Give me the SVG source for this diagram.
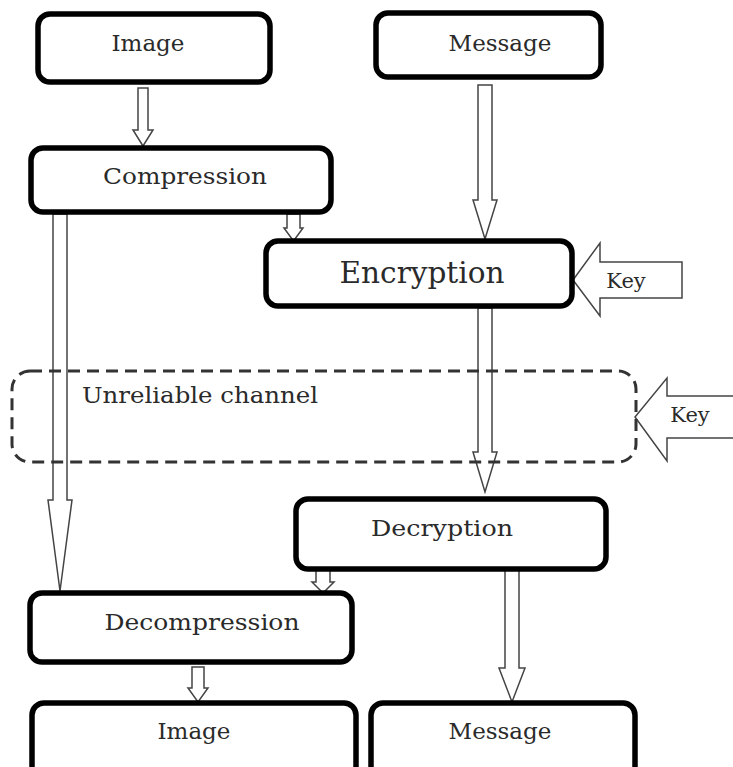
<svg xmlns="http://www.w3.org/2000/svg" width="733" height="767" viewBox="0 0 733 767">
<style>
.box{fill:#fff;stroke:#000;stroke-width:5.5}
.lbl{font-family:"DejaVu Serif","Liberation Serif",serif;font-size:23px;fill:#2a2a2a;text-anchor:middle}
.arr{fill:#fff;stroke:#444;stroke-width:1.5;stroke-linejoin:miter}
.chan{fill:none;stroke:#333;stroke-width:3;stroke-dasharray:12 7}
</style>
<rect width="733" height="767" fill="#fff"/>
<g id="connectors">
<path class="arr" d="M138,88 H148 V130 H153 L143,146 L133,130 H138 Z"/>
<path class="arr" d="M478,85 H492 V200 H497 L485,239 L473,200 H478 Z"/>
<path class="arr" d="M287,214 H300 V228 H303 L293.5,241 L284,228 H287 Z"/>
<path class="arr" d="M682,262 H600 V243 L573,280 L600,316 V298 H682 Z"/>
<path class="arr" d="M478,308 H492 V452 H497 L485,492 L473,452 H478 Z"/>
<path class="arr" d="M53,214 H67 V500 H72 L60,591 L48,500 H53 Z"/>
<path class="arr" d="M740,396 H667 V378 L635,417 L667,461 V438 H740 Z"/>
<path class="arr" d="M316,570 H330 V582 H334 L323,593 L312,582 H316 Z"/>
<path class="arr" d="M505,570 H519 V668 H525 L512,702 L499,668 H505 Z"/>
<path class="arr" d="M192,667 H204 V688 H208 L198,702 L188,688 H192 Z"/>
</g>
<g id="channel">
<rect class="chan" x="12" y="371" width="624" height="91" rx="18"/>
<text class="lbl" x="200" y="403" textLength="236" lengthAdjust="spacingAndGlyphs">Unreliable channel</text>
</g>
<g id="image-top">
<rect class="box" x="38" y="14" width="232" height="68" rx="12"/>
<text class="lbl" x="148" y="51">Image</text>
</g>
<g id="message-top">
<rect class="box" x="376" y="13" width="225" height="64" rx="12"/>
<text class="lbl" x="500" y="51">Message</text>
</g>
<g id="compression">
<rect class="box" x="31" y="148" width="300" height="64" rx="12"/>
<text class="lbl" x="185" y="184" textLength="164" lengthAdjust="spacingAndGlyphs">Compression</text>
</g>
<g id="encryption">
<rect class="box" x="266" y="241" width="306" height="65" rx="12"/>
<text class="lbl" x="422" y="283" style="font-size:29px" textLength="165" lengthAdjust="spacingAndGlyphs">Encryption</text>
</g>
<g id="key1">
<text class="lbl" x="626" y="288" style="font-size:21px">Key</text>
</g>
<g id="key2">
<text class="lbl" x="690" y="422" style="font-size:21px">Key</text>
</g>
<g id="decryption">
<rect class="box" x="296" y="499" width="310" height="70" rx="12"/>
<text class="lbl" x="442" y="536" textLength="142" lengthAdjust="spacingAndGlyphs">Decryption</text>
</g>
<g id="decompression">
<rect class="box" x="30" y="593" width="322" height="69" rx="12"/>
<text class="lbl" x="202" y="630" textLength="195" lengthAdjust="spacingAndGlyphs">Decompression</text>
</g>
<g id="image-bottom">
<rect class="box" x="32" y="703" width="324" height="76" rx="12"/>
<text class="lbl" x="194" y="739">Image</text>
</g>
<g id="message-bottom">
<rect class="box" x="371" y="703" width="264" height="76" rx="12"/>
<text class="lbl" x="500" y="739">Message</text>
</g>
</svg>
